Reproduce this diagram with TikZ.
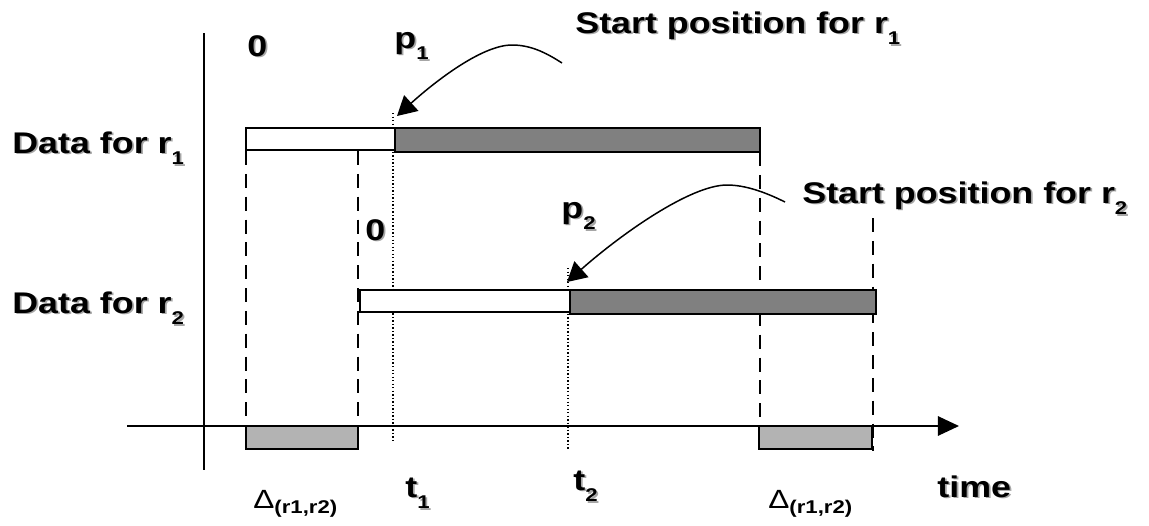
\documentclass[tikz,border=0pt]{standalone}
\usepackage{fontspec}
\setmainfont{Liberation Sans}[FakeStretch=1.2]
\usetikzlibrary{arrows.meta,positioning}
\definecolor{usedgray}{HTML}{808080}
\definecolor{skewgray}{HTML}{B3B3B3}
\definecolor{shadegray}{HTML}{A6A6A6}
\newcommand{\idx}[1]{\raisebox{-6.5pt}{\fontsize{10.5}{11}\selectfont #1}}
\newcommand{\dsub}[1]{\raisebox{-3pt}{\bfseries\fontsize{10.5}{11}\selectfont #1}}
\newcommand{\shd}[1]{\rlap{\kern1pt\raisebox{-1pt}{\color{shadegray}#1}}#1}

\begin{document}
\begin{tikzpicture}[x=0.02cm, y=-0.02cm,
    lbl/.style = {font=\bfseries\fontsize{17}{19}\selectfont, inner sep=0pt, anchor=base west},
    delta/.style = {font=\fontsize{15}{17}\selectfont, inner sep=0pt, anchor=base west},
    axis/.style = {line width=1.1pt},
    freebar/.style = {draw, line width=0.9pt, fill=white},
    databar/.style = {draw, line width=1.5pt, fill=usedgray},
    skewbar/.style = {draw, line width=1.5pt, fill=skewgray},
    bound/.style = {line width=1.1pt, dash pattern=on 8pt off 5pt},
    startline/.style = {line width=0.9pt, dash pattern=on 0.8pt off 1.2pt},
    pointer/.style = {-{Triangle[length=11pt,width=12pt]}, line width=0.85pt}]

  \useasboundingbox (0,0) rectangle (1149,525);

  % axes
  \coordinate (yTop) at (204,33);
  \coordinate (yBot) at (204,470);
  \coordinate (xL) at (127,426);
  \coordinate (xR) at (959,426);
  \draw[axis] (yTop) -- (yBot);
  \draw[axis, -{Triangle[length=12pt,width=11pt]}] (xL) -- (xR);

  % dashed bounds
  \coordinate (b1) at (246,151);  \coordinate (b1e) at (246,426);
  \coordinate (b2) at (358,151);  \coordinate (b2e) at (358,426);
  \coordinate (b3) at (760,152);  \coordinate (b3e) at (760,426);
  \coordinate (b4) at (873,218);  \coordinate (b4e) at (873,451);
  \foreach \s/\e in {b1/b1e, b2/b2e, b3/b3e, b4/b4e}
    \draw[bound] (\s) -- (\e);

  % dotted start positions
  \coordinate (s1) at (393,113);  \coordinate (s1e) at (393,443);
  \coordinate (s2) at (568,268);  \coordinate (s2e) at (568,450);
  \draw[startline] (s1) -- (s1e);
  \draw[startline] (s2) -- (s2e);

  % data bars
  \draw[freebar] (246,128) rectangle (395,150);
  \draw[databar] (395,128) rectangle (760,152);
  \draw[freebar] (360,290) rectangle (570,312);
  \draw[databar] (570,290) rectangle (876,314);

  % skew bars on the time axis
  \draw[skewbar] (246,426) rectangle (358,449);
  \draw[skewbar] (759,426) rectangle (872,449);

  % labels
  \node[lbl] (zero1) at (247,56) {\shd{0}};
  \node[lbl] (p1) at (394,48) {\shd{p\idx{1}}};
  \node[lbl] (sp1) at (575,33) {\shd{Start position for r\idx{1}}};
  \node[lbl] (d1) at (12,153) {\shd{Data for r\idx{1}}};
  \node[lbl] (zero2) at (365,240) {\shd{0}};
  \node[lbl] (p2) at (561,218) {\shd{p\idx{2}}};
  \node[lbl] (sp2) at (802,203) {\shd{Start position for r\idx{2}}};
  \node[lbl] (d2) at (12,313) {\shd{Data for r\idx{2}}};
  \node[lbl] (t1) at (405,497) {\shd{t\idx{1}}};
  \node[lbl] (t2) at (573,490) {\shd{t\idx{2}}};
  \node[lbl] (time) at (937,497) {\shd{time}};
  \node[delta] (dl1) at (253,508) {Δ\dsub{(r1,r2)}};
  \node[delta] (dl2) at (768,508) {Δ\dsub{(r1,r2)}};

  % pointers to the start positions
  \coordinate (a1) at (562,63);
  \coordinate (a1top) at (512,45);
  \coordinate (a1tip) at (397,116);
  \draw[pointer] (a1) .. controls (545,52) and (530,45) .. (a1top)
                      .. controls (480,45) and (430,86) .. (a1tip);
  \coordinate (a2) at (785,202);
  \coordinate (a2top) at (727,185);
  \coordinate (a2tip) at (567,282);
  \draw[pointer] (a2) .. controls (765,192) and (745,185) .. (a2top)
                      .. controls (690,185) and (620,235) .. (a2tip);
\end{tikzpicture}
\end{document}
